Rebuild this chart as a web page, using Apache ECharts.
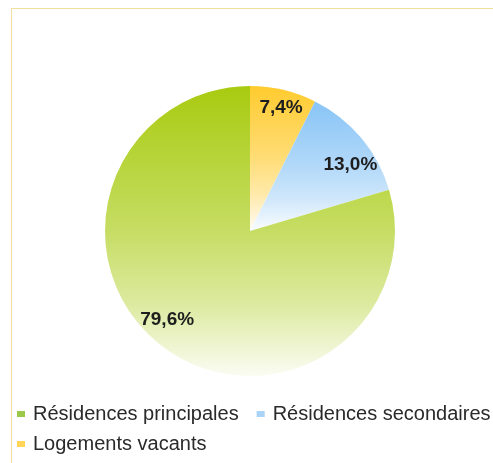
<!DOCTYPE html>
<html>
<head>
<meta charset="utf-8">
<script src="https://cdn.jsdelivr.net/npm/echarts@6/dist/echarts.min.js"></script>
<style>
html,body{margin:0;padding:0;background:#fff;}
#chart{width:493px;height:463px;}
</style>
</head>
<body>
<div id="chart"></div>
<script>
// Data
const categories = ['Logements vacants', 'Résidences secondaires', 'Résidences principales'];
const values = [7.4, 13.0, 79.6];
const legendRow1 = ['Résidences principales', 'Résidences secondaires'];
const legendRow2 = ['Logements vacants'];

const topColors = {
  'Logements vacants': '#FFCB2E',
  'Résidences secondaires': '#88C4F6',
  'Résidences principales': '#A8CB10'
};
const legendColors = {
  'Logements vacants': '#FFD55A',
  'Résidences secondaires': '#A9D3F7',
  'Résidences principales': '#9CC84A'
};
// small label nudges (styling), per slice in categories order
const labelNudge = [[3, -5], [7, 12], [-10, -9]];

const CX = 250, CY = 231, R = 145;

const chart = echarts.init(document.getElementById('chart'), null, {renderer: 'canvas'});

function mix(hex, t) {
  const n = parseInt(hex.slice(1), 16);
  const r = (n >> 16) & 255, g = (n >> 8) & 255, b = n & 255;
  const f = v => Math.round(v + (255 - v) * t);
  return 'rgb(' + f(r) + ',' + f(g) + ',' + f(b) + ')';
}

function grad(c) {
  return new echarts.graphic.LinearGradient(0, 0, 0, 1, [
    {offset: 0, color: c},
    {offset: 0.5, color: mix(c, 0.35)},
    {offset: 0.75, color: mix(c, 0.6)},
    {offset: 1, color: mix(c, 0.95)}
  ]);
}

const legendBase = {
  orient: 'horizontal',
  left: 17,
  width: 600,
  itemWidth: 8,
  itemHeight: 6,
  itemGap: 18,
  icon: 'rect',
  textStyle: {
    fontFamily: 'Liberation Sans, Arial, sans-serif',
    fontSize: 20,
    color: '#2a2a2a',
    padding: [2, 0, 2, 3]
  },
  padding: 0
};

const option = {
  animation: false,
  backgroundColor: '#fff',
  graphic: [{
    type: 'rect',
    shape: {x: 11.5, y: 8.5, width: 600, height: 600},
    style: {fill: 'none', stroke: '#F2DF9C', lineWidth: 1},
    silent: true
  }],
  legend: [
    Object.assign({}, legendBase, {
      top: 404,
      data: legendRow1.map(n => ({name: n, itemStyle: {color: legendColors[n]}}))
    }),
    Object.assign({}, legendBase, {
      top: 434,
      data: legendRow2.map(n => ({name: n, itemStyle: {color: legendColors[n]}}))
    })
  ],
  series: [{
    type: 'pie',
    center: [CX, CY],
    radius: [0, R],
    startAngle: 90,
    clockwise: true,
    avoidLabelOverlap: false,
    labelLine: {show: false},
    label: {
      show: true,
      position: 'inside',
      formatter: p => p.value.toFixed(1).replace('.', ',') + '%',
      fontFamily: 'Liberation Sans, Arial, sans-serif',
      fontWeight: 'bold',
      fontSize: 19,
      color: '#1e1e1e'
    },
    labelLayout: function (params) {
      const r = params.labelRect;
      const lx = r.x + r.width / 2, ly = r.y + r.height / 2;
      const vx = lx - CX, vy = ly - CY;
      const d = Math.sqrt(vx * vx + vy * vy) || 1;
      const target = 0.84 * R;
      const n = labelNudge[params.dataIndex] || [0, 0];
      return {x: CX + vx / d * target + n[0], y: CY + vy / d * target + n[1], align: 'center', verticalAlign: 'middle'};
    },
    emphasis: {disabled: true},
    data: categories.map((c, i) => ({
      name: c,
      value: values[i],
      itemStyle: {color: grad(topColors[c])}
    }))
  }]
};
chart.setOption(option);
</script>
</body>
</html>
